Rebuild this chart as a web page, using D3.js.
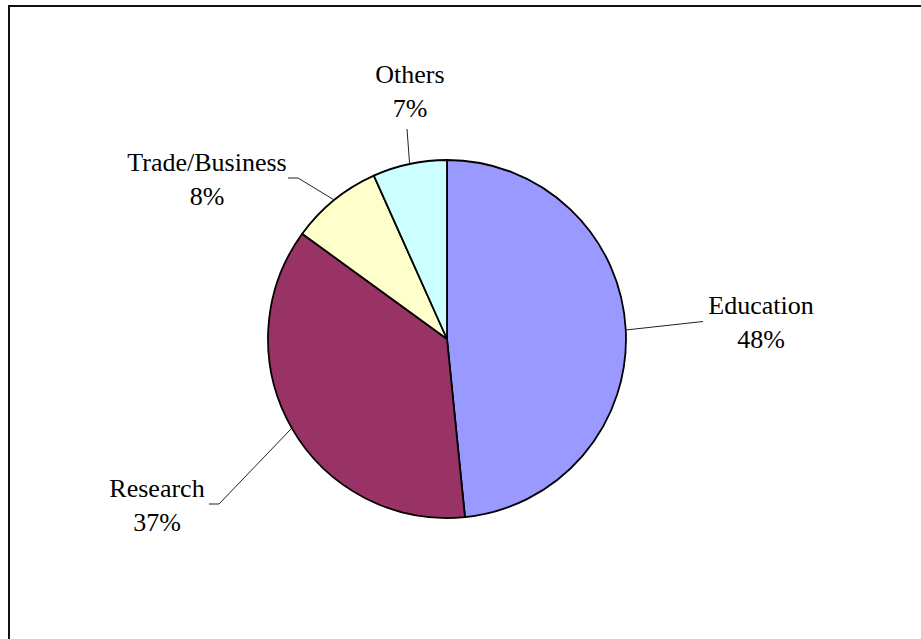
<!DOCTYPE html>
<html>
<head>
<meta charset="utf-8">
<script src="https://cdn.jsdelivr.net/npm/d3@7"></script>
<style>
  body { margin:0; background:#fff; }
  svg text { font-family:"Liberation Serif","Times New Roman",serif; }
</style>
</head>
<body>
<div id="container"></div>
<script>
/* DATA */
const categories = ["Education", "Research", "Trade/Business", "Others"];
const shares = [48.4, 36.6, 8.3, 6.7]; // labels show rounded values
const colors = ["#9999FF", "#993366", "#FFFFCC", "#CCFFFF"];

/* CONSTANTS */
const width = 921, height = 639;
const cx = 447, cy = 339, radius = 179;
const fontSize = 26, lineGap = 34;

// where each label sits (text centre x, first baseline y) and leader path end
const labelLayout = [
  {x: 761, y: 314, leader: [[703, 321.5]]},
  {x: 157, y: 497, leader: [[219, 504], [209, 504]]},
  {x: 207, y: 171, leader: [[298, 178], [288, 178]]},
  {x: 410, y: 83, leader: [[407, 129]]}
];

const data = categories.map((c, i) => ({name: c, value: shares[i], color: colors[i]}));

const svg = d3.select("#container")
  .append("svg")
    .attr("width", width)
    .attr("height", height);

// chart frame (runs off the right and bottom edge)
svg.append("rect")
  .attr("x", 9).attr("y", 6)
  .attr("width", width + 20).attr("height", height + 20)
  .attr("fill", "white")
  .attr("stroke", "#111")
  .attr("stroke-width", 2);

const pie = d3.pie()
  .sort(null)
  .value(d => d.value);

const arcs = pie(data);

const arcGen = d3.arc()
  .innerRadius(0)
  .outerRadius(radius);

const g = svg.append("g")
  .attr("transform", `translate(${cx},${cy})`);

g.selectAll("path.slice")
  .data(arcs)
  .join("path")
    .attr("class", "slice")
    .attr("d", arcGen)
    .attr("fill", d => d.data.color)
    .attr("stroke", "#000")
    .attr("stroke-width", 1.8)
    .attr("stroke-linejoin", "round");

// leader lines: start on the rim at mid angle
const line = d3.line();
svg.selectAll("path.leader")
  .data(arcs)
  .join("path")
    .attr("class", "leader")
    .attr("d", (d, i) => {
      const a = (d.startAngle + d.endAngle) / 2;
      const start = [cx + radius * Math.sin(a), cy - radius * Math.cos(a)];
      return line([start, ...labelLayout[i].leader]);
    })
    .attr("fill", "none")
    .attr("stroke", "#222")
    .attr("stroke-width", 1);

const labels = svg.selectAll("text.label")
  .data(arcs)
  .join("text")
    .attr("class", "label")
    .attr("text-anchor", "middle")
    .attr("font-size", fontSize)
    .attr("fill", "#000");

labels.append("tspan")
  .attr("x", (d, i) => labelLayout[i].x)
  .attr("y", (d, i) => labelLayout[i].y)
  .text(d => d.data.name);

labels.append("tspan")
  .attr("x", (d, i) => labelLayout[i].x)
  .attr("y", (d, i) => labelLayout[i].y + lineGap)
  .text(d => Math.round(d.data.value) + "%");
</script>
</body>
</html>
